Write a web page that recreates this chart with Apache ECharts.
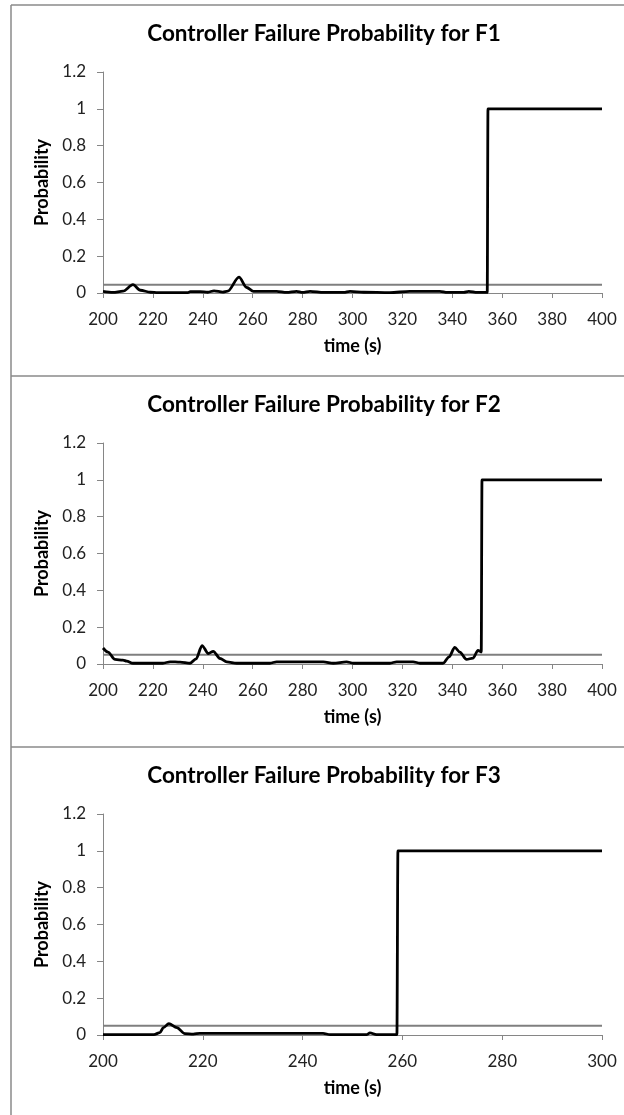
<!DOCTYPE html>
<html>
<head>
<meta charset="utf-8">
<script src="https://cdn.jsdelivr.net/npm/echarts@6/dist/echarts.min.js"></script>
<style>
  html, body { margin: 0; padding: 0; background: #fff; }
  #chart { width: 624px; height: 1115px; }
</style>
</head>
<body>
<div id="chart"></div>
<script>
// Failure probability traces for each controller (time in s, probability)
const f1Time = [200, 204, 208, 212, 215, 219, 222, 234, 235, 239, 242, 244.5, 248, 250, 254.5, 257.6, 260.3, 269.6, 273.6, 277.6, 280, 283, 288.5, 296.5, 299, 304.5, 315, 323, 335, 338, 344.6, 346.6, 350, 354, 354.3, 400];
const f1Prob = [0.009, 0.003, 0.01, 0.045, 0.015, 0.004, 0.002, 0.002, 0.008, 0.008, 0.004, 0.012, 0.005, 0.01, 0.086, 0.03, 0.009, 0.009, 0.003, 0.009, 0.003, 0.009, 0.003, 0.003, 0.009, 0.004, 0.002, 0.009, 0.009, 0.003, 0.003, 0.009, 0.003, 0.003, 1, 1];

const f2Time = [200, 202, 204.8, 208, 209.5, 212, 224, 226.9, 230.9, 234.9, 237.3, 239.7, 242.2, 244.2, 246.9, 249.6, 253.6, 266.9, 269.6, 288.3, 292.3, 297.6, 300.3, 315, 317.7, 324.3, 327, 336.3, 338.7, 341, 343, 345.7, 348.3, 350.3, 351.6, 351.9, 400];
const f2Prob = [0.087, 0.065, 0.025, 0.021, 0.016, 0.004, 0.004, 0.012, 0.01, 0.004, 0.028, 0.1, 0.057, 0.069, 0.03, 0.012, 0.004, 0.004, 0.012, 0.012, 0.004, 0.012, 0.004, 0.004, 0.012, 0.012, 0.004, 0.004, 0.039, 0.09, 0.065, 0.025, 0.032, 0.074, 0.065, 1, 1];

const f3Time = [200, 210.2, 211.4, 212.1, 213.2, 214.8, 216.4, 218.1, 219.4, 244.1, 245.5, 252.8, 253.5, 254.8, 258.9, 259.1, 300];
const f3Prob = [0.002, 0.002, 0.013, 0.04, 0.062, 0.04, 0.007, 0.005, 0.009, 0.009, 0.002, 0.002, 0.011, 0.002, 0.002, 1, 1];

// Detection threshold drawn as a horizontal reference line per panel
const thresholds = [0.045, 0.05, 0.05];
const xRanges = [[200, 400], [200, 400], [200, 300]];
const titles = ['Controller Failure Probability for F1', 'Controller Failure Probability for F2', 'Controller Failure Probability for F3'];
const yTicks = [0, 1.2, 0.2];
const xInterval = 20;
const xAxisName = 'time (s)';
const yAxisName = 'Probability';

const traces = [[f1Time, f1Prob], [f2Time, f2Prob], [f3Time, f3Prob]];

const FONT = 'Lato, "Open Sans", sans-serif';
const AXIS_GRAY = '#868686';
const FRAME_GRAY = '#8a8a8a';
const panelTop = [72, 443, 814];
const plotH = 221;

const grids = [], xAxes = [], yAxes = [], series = [], graphics = [];
for (let i = 0; i < 3; i++) {
  grids.push({ left: 103, top: panelTop[i], width: 499, height: plotH, containLabel: false });
  // panel heading, centred over the chart block
  graphics.push({
    type: 'text', x: 324, y: panelTop[i] - 38.5, silent: true,
    style: {
      text: titles[i], fill: '#000', align: 'center', verticalAlign: 'middle',
      fontFamily: FONT, fontSize: 22.5, fontWeight: 'bold'
    }
  });
  xAxes.push({
    type: 'value', gridIndex: i, min: xRanges[i][0], max: xRanges[i][1], interval: xInterval,
    name: xAxisName, nameLocation: 'middle', nameGap: 44,
    nameTextStyle: { fontFamily: FONT, fontSize: 18, fontWeight: 'bold', color: '#000' },
    axisLine: { lineStyle: { color: AXIS_GRAY, width: 1 } },
    axisTick: { show: true, length: 5, lineStyle: { color: AXIS_GRAY } },
    axisLabel: { fontFamily: FONT, fontSize: 17, color: '#222', margin: 18 },
    splitLine: { show: false }
  });
  yAxes.push({
    type: 'value', gridIndex: i, min: yTicks[0], max: yTicks[1], interval: yTicks[2],
    name: yAxisName, nameLocation: 'middle', nameGap: 50, nameRotate: 90,
    nameTextStyle: { fontFamily: FONT, fontSize: 18, fontWeight: 'bold', color: '#000' },
    axisLine: { show: true, lineStyle: { color: AXIS_GRAY, width: 1 } },
    axisTick: { show: true, length: 6, lineStyle: { color: AXIS_GRAY } },
    axisLabel: { fontFamily: FONT, fontSize: 17, color: '#222', margin: 17,
      formatter: v => String(Math.round(v * 10) / 10) },
    splitLine: { show: false }
  });
  series.push({
    type: 'line', xAxisIndex: i, yAxisIndex: i, silent: true, symbol: 'none', z: 2,
    data: xRanges[i].map(x => [x, thresholds[i]]),
    lineStyle: { color: '#7f7f7f', width: 2 }
  });
  const [ts, ps] = traces[i];
  series.push({
    type: 'line', xAxisIndex: i, yAxisIndex: i, silent: true, symbol: 'none', z: 3,
    smooth: 0.3, smoothMonotone: 'x',
    data: ts.map((t, k) => [t, ps[k]]),
    lineStyle: { color: '#000', width: 2.8 }
  });
}

// panel frame: outer top/left edges and the separators between panels
const frameSegments = [[11, 5, 624, 5], [11, 5, 11, 1115], [11, 376, 624, 376], [11, 747, 624, 747]];
frameSegments.forEach(([x1, y1, x2, y2]) => graphics.push({
  type: 'line', silent: true, shape: { x1, y1, x2, y2 }, style: { stroke: FRAME_GRAY, lineWidth: 1.5 }
}));

const chart = echarts.init(document.getElementById('chart'), null, { renderer: 'canvas' });
chart.setOption({
  animation: false,
  backgroundColor: '#fff',
  grid: grids,
  xAxis: xAxes,
  yAxis: yAxes,
  series: series,
  graphic: graphics
});
</script>
</body>
</html>
